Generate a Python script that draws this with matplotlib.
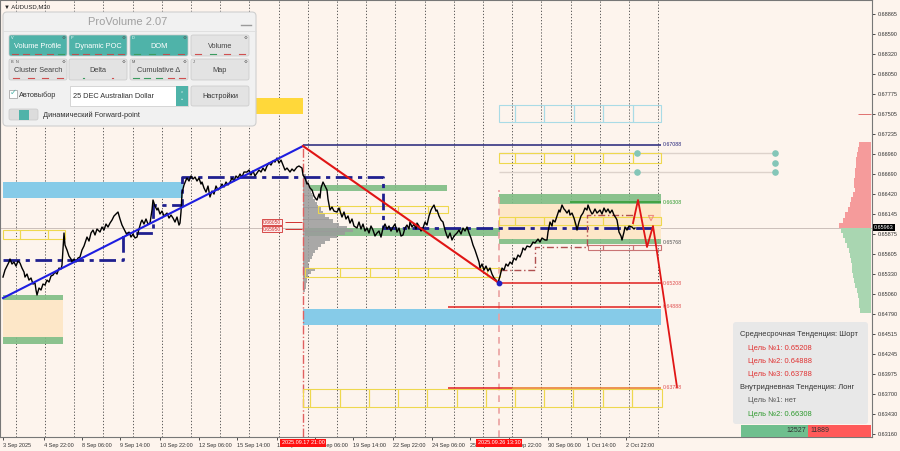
import matplotlib
matplotlib.use('Agg')
import matplotlib.pyplot as plt
import matplotlib.transforms as mtransforms
from matplotlib.patches import Rectangle, FancyBboxPatch

plt.rcParams['font.family'] = ['Liberation Sans', 'DejaVu Sans']

BG = '#fdf4ed'
TEAL = '#4fb3a9'

# ---- price path (bar position, close) ----
bar_x = [3, 5, 7, 9, 10, 12, 14, 16, 18, 20, 22, 24, 25, 27, 29, 31, 33, 35, 36, 37, 39, 41, 43, 45, 47, 49,
         51, 53, 55, 57, 59, 61, 62, 64, 65, 67, 69, 71, 72, 74, 76, 78, 80, 82, 84, 86, 87, 89, 91, 93, 95,
         97, 100, 102, 104, 106, 108, 110, 112, 114, 116, 118, 120, 122, 123, 125, 127, 129, 131, 133, 135,
         137, 139, 141, 142, 144, 146, 148, 150, 152, 153, 155, 157, 158, 160, 162, 164, 167, 169, 171, 173,
         175, 177, 179, 180, 181, 182, 184, 186, 187, 189, 191, 193, 195, 197, 199, 201, 202, 204, 206, 208,
         210, 212, 214, 216, 218, 220, 222, 224, 226, 228, 230, 232, 234, 236, 238, 240, 242, 244, 247, 249,
         251, 253, 255, 257, 259, 261, 263, 265, 267, 269, 271, 273, 275, 277, 279, 281, 283, 285, 287, 290,
         292, 294, 297, 299, 302, 303, 305, 307, 308, 310, 312, 314, 316, 317, 319, 320, 321, 323, 325, 327,
         328, 330, 332, 334, 337, 339, 341, 342, 344, 346, 348, 350, 352, 354, 357, 359, 361, 363, 365, 367,
         369, 371, 373, 375, 377, 379, 381, 383, 385, 387, 389, 391, 393, 395, 397, 399, 401, 403, 405, 407,
         409, 410, 412, 414, 416, 417, 419, 421, 423, 425, 427, 429, 431, 432, 434, 436, 437, 439, 441, 443,
         445, 447, 448, 450, 452, 454, 457, 459, 461, 463, 465, 467, 469, 471, 473, 475, 477, 479, 480, 482,
         484, 486, 488, 490, 492, 494, 496, 498, 500, 502, 504, 506, 508, 510, 512, 514, 516, 518, 520, 522,
         523, 525, 527, 530, 532, 533, 535, 538, 540, 542, 545, 547, 548, 550, 552, 553, 555, 557, 559, 560,
         562, 564, 565, 567, 569, 570, 572, 574, 576, 577, 579, 581, 583, 585, 587, 588, 590, 592, 593, 595,
         597, 600, 602, 604, 606, 608, 610, 612, 614, 616, 617, 619, 621, 622, 624, 625, 627, 629, 632, 634, 635]
close = [0.65293, 0.65388, 0.65442, 0.65497, 0.65538, 0.65470, 0.65497, 0.65442, 0.65510, 0.65483, 0.65415,
         0.65361, 0.65293, 0.65334, 0.65252, 0.65280, 0.65198, 0.65212, 0.65117, 0.65049, 0.65144, 0.65117,
         0.65198, 0.65185, 0.65252, 0.65225, 0.65307, 0.65320, 0.65361, 0.65334, 0.65415, 0.65402, 0.65456,
         0.65891, 0.65728, 0.65660, 0.65578, 0.65538, 0.65497, 0.65538, 0.65497, 0.65551, 0.65565, 0.65660,
         0.65714, 0.65796, 0.65836, 0.65782, 0.65891, 0.65931, 0.65864, 0.65945, 0.65904, 0.65972, 0.65931,
         0.66013, 0.65972, 0.66026, 0.66067, 0.66122, 0.66149, 0.66176, 0.66081, 0.65999, 0.65972, 0.65918,
         0.65864, 0.65904, 0.65836, 0.65877, 0.65823, 0.65836, 0.65945, 0.66040, 0.66067, 0.66013, 0.66081,
         0.66013, 0.66026, 0.66203, 0.66339, 0.66257, 0.66203, 0.66230, 0.66149, 0.66189, 0.66122, 0.66162,
         0.66094, 0.66135, 0.66094, 0.66040, 0.66108, 0.65999, 0.66026, 0.66176, 0.66434, 0.66543, 0.66610,
         0.66638, 0.66597, 0.66665, 0.66624, 0.66651, 0.66597, 0.66638, 0.66556, 0.66583, 0.66502, 0.66447,
         0.66529, 0.66380, 0.66461, 0.66420, 0.66529, 0.66475, 0.66502, 0.66556, 0.66515, 0.66583, 0.66543,
         0.66583, 0.66638, 0.66597, 0.66665, 0.66638, 0.66692, 0.66651, 0.66719, 0.66719, 0.66746, 0.66678,
         0.66733, 0.66665, 0.66705, 0.66746, 0.66719, 0.66773, 0.66733, 0.66801, 0.66841, 0.66814, 0.66868,
         0.66855, 0.66909, 0.66841, 0.66882, 0.66814, 0.66746, 0.66773, 0.66719, 0.66760, 0.66733, 0.66787,
         0.66801, 0.66773, 0.66678, 0.66638, 0.66556, 0.66570, 0.66502, 0.66475, 0.66393, 0.66352, 0.66339,
         0.66420, 0.66366, 0.66502, 0.66583, 0.66529, 0.66475, 0.66352, 0.66203, 0.66244, 0.66189, 0.66176,
         0.66230, 0.66149, 0.66108, 0.66176, 0.66081, 0.66122, 0.66026, 0.66081, 0.65986, 0.65959, 0.66040,
         0.65945, 0.66013, 0.65918, 0.65959, 0.65891, 0.65986, 0.65931, 0.65850, 0.65891, 0.65918, 0.65836,
         0.65959, 0.66013, 0.65945, 0.65986, 0.65918, 0.65972, 0.66013, 0.65904, 0.65959, 0.65850, 0.65864,
         0.65959, 0.65999, 0.65945, 0.66040, 0.65972, 0.66013, 0.65945, 0.66026, 0.65986, 0.65918, 0.65959,
         0.66040, 0.65999, 0.66122, 0.66203, 0.66230, 0.66271, 0.66189, 0.66203, 0.66122, 0.66067, 0.66040,
         0.65931, 0.65850, 0.65823, 0.65891, 0.65796, 0.65850, 0.65891, 0.65931, 0.65877, 0.65959, 0.65918,
         0.65972, 0.65891, 0.65823, 0.65728, 0.65660, 0.65578, 0.65497, 0.65415, 0.65470, 0.65388, 0.65442,
         0.65375, 0.65415, 0.65334, 0.65280, 0.65252, 0.65212, 0.65307, 0.65415, 0.65388, 0.65470, 0.65442,
         0.65497, 0.65470, 0.65551, 0.65524, 0.65592, 0.65565, 0.65633, 0.65687, 0.65660, 0.65714, 0.65701,
         0.65741, 0.65768, 0.65755, 0.65809, 0.65768, 0.65823, 0.65796, 0.65796, 0.65904, 0.66040, 0.65986,
         0.66067, 0.66040, 0.66122, 0.66203, 0.66176, 0.66271, 0.66217, 0.66203, 0.66162, 0.66203, 0.66135,
         0.66162, 0.66094, 0.65999, 0.65931, 0.66040, 0.66122, 0.66162, 0.66230, 0.66203, 0.66271, 0.66203,
         0.66149, 0.66162, 0.66217, 0.66162, 0.66203, 0.66149, 0.66230, 0.66176, 0.66217, 0.66162, 0.66203,
         0.66135, 0.66094, 0.66067, 0.65904, 0.65850, 0.65796, 0.65904, 0.65972, 0.65931, 0.65986, 0.65972,
         0.65945, 0.65959]
last_price = 0.65963

# ---- trend lines / POC path ----
up_trend_x, up_trend_y = [3, 303], [0.65008, 0.67072]
down_trend_x, down_trend_y = [303, 499], [0.67072, 0.65212]
poc_x = [3, 123, 123, 153, 153, 182, 182, 383, 383, 657]
poc_y = [0.65524, 0.65524, 0.65891, 0.65891, 0.66271, 0.66271, 0.66651, 0.66651, 0.65959, 0.65959]
fwd_poc_x = [500, 535, 535, 587, 587, 633]
fwd_poc_y = [0.65388, 0.65388, 0.65701, 0.65701, 0.66135, 0.66135]
forecast_x = [633, 638, 647, 653, 657, 677]
forecast_y = [0.66026, 0.66339, 0.65701, 0.65986, 0.65633, 0.63799]

# ---- zones (x0, x1, low, high) ----
sky_zones = [(3, 183, 0.66366, 0.66583), (303, 661, 0.64641, 0.64859)]
green_zones = [(3, 63, 0.64981, 0.65049), (3, 63, 0.64384, 0.64478), (310, 447, 0.66461, 0.66543),
               (305, 500, 0.65850, 0.65959), (499, 661, 0.66284, 0.66420), (499, 661, 0.65741, 0.65809)]
peach_zones = [(3, 63, 0.64478, 0.64981), (499, 661, 0.65809, 0.66284)]
gold_zones = [(255, 303, 0.67507, 0.67724)]

yellow_rows = [
    ([3, 20, 48, 65], 0.65809, 0.65932),
    ([318, 340, 370, 398, 428, 448], 0.66162, 0.66257),
    ([305, 340, 370, 398, 428, 457, 487, 500], 0.65293, 0.65416),
    ([303, 310, 340, 369, 398, 427, 457, 486, 515, 544, 573, 603, 632, 662], 0.63528, 0.63772),
    ([499, 515, 544, 574, 603, 633, 661], 0.66842, 0.66977),
    ([499, 515, 544, 574, 603, 633, 661], 0.65999, 0.66108),
]
cyan_rows = [([499, 515, 544, 574, 603, 633, 661], 0.67398, 0.67629)]
brown_rows = [([588, 603, 633, 661], 0.65660, 0.65728)]

# ---- target levels ----
level_prices = [0.67088, 0.66308, 0.65208, 0.64888, 0.63788]
level_x0 = [303, 570, 499, 448, 512]
level_colors = ['#23237a', '#2e9a2e', '#e02020', '#e02020', '#e8782a']
label_prices = [0.67088, 0.66308, 0.65768, 0.65208, 0.64888, 0.63788]
label_colors = ['#23237a', '#2e9a2e', '#555555', '#e05050', '#e05050', '#e05050']

# ---- volume profile from 17 Sep ----
vp_levels = [0.65117, 0.65157, 0.65198, 0.65239, 0.65280, 0.65320, 0.65361, 0.65402, 0.65442, 0.65483,
             0.65524, 0.65565, 0.65605, 0.65646, 0.65687, 0.65728, 0.65768, 0.65809, 0.65850, 0.65891,
             0.65931, 0.65972, 0.66013, 0.66054, 0.66094, 0.66135, 0.66176, 0.66217, 0.66257, 0.66298,
             0.66339, 0.66380, 0.66420, 0.66461, 0.66502, 0.66543, 0.66583, 0.66624, 0.66665]
vp_volume = [2, 3, 3, 4, 4, 5, 8, 12, 6, 5, 7, 9, 10, 12, 15, 18, 22, 27, 34, 42, 50, 44, 36, 30, 26, 22,
             20, 18, 15, 14, 12, 10, 9, 8, 7, 6, 5, 4, 3]

# ---- DOM (right edge) ----
ask_levels = [0.67086, 0.67018, 0.66950, 0.66882, 0.66814, 0.66746, 0.66678, 0.66610, 0.66543, 0.66475,
              0.66407, 0.66339, 0.66271, 0.66203, 0.66135, 0.66067, 0.65999]
ask_size = [12, 13, 14, 15, 15, 16, 16, 17, 17, 16, 18, 20, 21, 23, 26, 28, 32]
bid_levels = [0.65931, 0.65864, 0.65796, 0.65728, 0.65660, 0.65592, 0.65524, 0.65456, 0.65388, 0.65320,
              0.65252, 0.65185, 0.65117, 0.65049, 0.64981, 0.64913, 0.64845]
bid_size = [30, 28, 26, 24, 22, 21, 20, 19, 19, 18, 17, 16, 14, 13, 12, 12, 11]

grid_x = [15.7, 44.9, 74.1, 103.3, 132.5, 161.7, 190.9, 220.1, 249.3, 278.5, 307.7, 336.9, 366.1, 395.3,
          424.5, 453.7, 482.9, 512.1, 541.3, 570.5, 599.7, 628.9, 658.1]
xtick_pos = [3, 44, 82, 120, 160, 199, 237, 277, 315, 353, 393, 432, 470, 509, 548, 587, 626]
xtick_labels = ['3 Sep 2025', '4 Sep 22:00', '8 Sep 06:00', '9 Sep 14:00', '10 Sep 22:00', '12 Sep 06:00',
                '15 Sep 14:00', '16 Sep 22:00', '18 Sep 06:00', '19 Sep 14:00', '22 Sep 22:00',
                '24 Sep 06:00', '25 Sep 14:00', '26 Sep 22:00', '30 Sep 06:00', '1 Oct 14:00', '2 Oct 22:00']
ytick_pos = [0.68865, 0.68590, 0.68320, 0.68050, 0.67775, 0.67505, 0.67235, 0.66960, 0.66690, 0.66420,
             0.66145, 0.65875, 0.65605, 0.65330, 0.65060, 0.64790, 0.64515, 0.64245, 0.63975, 0.63700,
             0.63430, 0.63160]

fig = plt.figure(figsize=(9, 4.51), dpi=100, facecolor=BG)
ax = fig.add_axes([0, 14 / 451, 872 / 900, 437 / 451])
ax.set_facecolor(BG)
ax.set_xlim(0, 872)
ax.set_ylim(0.63121, 0.69055)
for s in ax.spines.values():
    s.set_color('#777777')
    s.set_linewidth(0.8)

ax.vlines(grid_x, 0.63121, 0.69055, colors='#444444', linestyles=(0, (1.5, 2.2)), lw=0.6, zorder=0.5)
ax.axhline(last_price, color='#cbbfba', lw=0.7, zorder=0.6)

def band(x0, x1, lo, hi, color, alpha=1.0, z=1):
    ax.add_patch(Rectangle((x0, lo), x1 - x0, hi - lo, fc=color, ec='none', alpha=alpha, zorder=z))

for z in peach_zones:
    band(*z, '#fde7c8', z=0.8)
for z in sky_zones:
    band(*z, '#86cbe8')
for z in green_zones:
    band(*z, '#7fbd84', alpha=0.9)
for z in gold_zones:
    band(*z, '#ffd83a')

def box_row(edges, lo, hi, color):
    for a, b in zip(edges[:-1], edges[1:]):
        ax.add_patch(Rectangle((a, lo), b - a, hi - lo, fc='none', ec=color, lw=0.8, zorder=1.5))

for r in yellow_rows:
    box_row(*r, '#eed84e')
for r in cyan_rows:
    box_row(*r, '#a9dbe6')
for r in brown_rows:
    box_row(*r, '#c97474')

# volume profile and DOM
ax.barh(vp_levels, vp_volume, height=0.00041, left=303, color='#9b9b9b', alpha=0.85, zorder=1.2)
ax.barh(ask_levels, ask_size, height=0.00069, left=[871 - w for w in ask_size], color='#f59b9b', zorder=1.2)
ax.barh(bid_levels, bid_size, height=0.00069, left=[871 - w for w in bid_size], color='#a9d6b1', zorder=1.2)
ax.hlines(0.67505, 858, 871, color='#e07070', lw=0.7)

# vertical event lines
ax.vlines(303, 0.63121, 0.67072, colors='#e06060', linestyles='-.', lw=1.0, zorder=1.3)
ax.vlines(499, 0.63121, 0.66475, colors='#eaa0a0', linestyles=(0, (4, 3)), lw=1.2, zorder=1.3)

# levels and lines
ax.plot(poc_x, poc_y, color='#1f1f8f', lw=2, ls=(0, (6, 2, 1.5, 2)), zorder=2)
ax.plot(fwd_poc_x, fwd_poc_y, color='#b05050', lw=1, ls=(0, (5, 2, 1, 2)), zorder=2)
for p, x0, c in zip(level_prices, level_x0, level_colors):
    ax.hlines(p, x0, 661, colors=c, lw=1.1, zorder=2)
ax.hlines(0.63788, 448, 512, colors='#e02020', lw=1.1, zorder=2)
for p, c in zip(label_prices, label_colors):
    ax.text(663, p, f'{p:.5f}', color=c, fontsize=3.8, va='center', ha='left', zorder=3)

ax.hlines([0.66977, 0.66719], 499, 775, colors='#ddd2cb', lw=1.0, zorder=1.4)
ax.scatter([637, 775, 775, 637, 775], [0.66977, 0.66977, 0.66842, 0.66719, 0.66719], s=14,
           color='#84c6b8', zorder=3)

ax.plot(bar_x, close, color='black', lw=1.0, zorder=2.5)
ax.plot(up_trend_x, up_trend_y, color='#1d1de0', lw=1.5, zorder=2.6)
ax.plot(down_trend_x, down_trend_y, color='#e01515', lw=1.5, zorder=2.6)
ax.plot(forecast_x, forecast_y, color='#e01515', lw=1.3, zorder=2.6)
ax.scatter([499], [0.65212], s=10, color='#2020c0', zorder=3)
ax.scatter([651], [0.66094], s=14, marker='v', facecolors='none', edgecolors='#f08c80', lw=0.8, zorder=3)

# red price tags left of the profile
for p, t in zip([0.66040, 0.65945], ['0.66050', '0.65950']):
    ax.text(272, p, t, color='#d03030', fontsize=3.6, ha='center', va='center', zorder=3,
            bbox=dict(boxstyle='square,pad=0.15', fc='#fdeaea', ec='#d03030', lw=0.6))
    ax.hlines(p, 285, 302, colors='#d03030', lw=0.7, zorder=3)

# axes ticks
ax.yaxis.tick_right()
ax.set_yticks(ytick_pos)
ax.set_yticklabels([f'{v:.5f}' for v in ytick_pos])
ax.set_xticks(xtick_pos)
ax.set_xticklabels(xtick_labels, ha='left')
ax.tick_params(axis='both', labelsize=4, colors='#333333', length=2.5, width=0.6, pad=1.5)
trans = mtransforms.blended_transform_factory(ax.transAxes, ax.transData)
ax.text(1.002, last_price, f'{last_price:.5f}', transform=trans, fontsize=4, color='white', va='center',
        ha='left', bbox=dict(boxstyle='square,pad=0.2', fc='black', ec='none'), zorder=5, clip_on=False)

# ---- overlay in pixel coordinates for panels ----
ui = fig.add_axes([0, 0, 1, 1], zorder=5)
ui.set_xlim(0, 900)
ui.set_ylim(451, 0)
ui.axis('off')
ui.patch.set_alpha(0)

for x, t in zip([303, 499], ['2025.09.17 21:00', '2025.09.26 13:30']):
    ui.text(x, 443, t, fontsize=4, color='white', ha='center', va='center',
            bbox=dict(boxstyle='square,pad=0.25', fc='#ff1010', ec='none'))

ui.text(4, 7, '▼ AUDUSD,M30', fontsize=4.3, color='#222222', va='center')

# ProVolume panel
ui.add_patch(FancyBboxPatch((3, 12), 253, 114, boxstyle='round,pad=0,rounding_size=4',
                            fc='#f1f1f1', ec='#cfcfcf', lw=0.8))
ui.text(128, 22, 'ProVolume 2.07', fontsize=8, color='#a0a0a0', ha='center', va='center')
ui.plot([241, 251], [25, 25], color='#9a9a9a', lw=1)
ui.plot([3, 256], [31, 31], color='#dddddd', lw=0.6)

btn_labels = ['Volume Profile', 'Dynamic POC', 'DOM', 'Volume', 'Cluster Search', 'Delta', 'Cumulative Δ', 'Map']
btn_active = [True, True, True, False, False, False, False, False]
btn_tags = ['V', 'P', 'D', '', 'B  N', '', 'M', 'J']
btn_marks = [['#b85050', '#b85050', '#b85050', '#b85050', '#3c9c60'],
             ['#b85050', '#b85050', '#b85050', '#b85050', '#b85050'],
             ['#3c9c60', '#3c9c60', '#b85050', '#b85050'],
             ['#d05050', '#3c9c60', '#d05050', '#d05050'],
             ['#d05050', '#d05050', '#d05050', '#d05050'],
             ['#3c9c60', '#d05050'],
             ['#3c9c60', '#3c9c60', '#3c9c60', '#d05050', '#d05050'],
             []]
col_x = [9, 69, 130, 191]
row_y = [35, 59]
for i, (lab, act, tag, marks) in enumerate(zip(btn_labels, btn_active, btn_tags, btn_marks)):
    x0, y0 = col_x[i % 4], row_y[i // 4]
    ui.add_patch(FancyBboxPatch((x0, y0), 58, 21, boxstyle='round,pad=0,rounding_size=2',
                                fc=TEAL if act else '#e3e3e3', ec='#c8c8c8', lw=0.5))
    ui.text(x0 + 29, y0 + 11, lab, fontsize=5.3, ha='center', va='center',
            color='white' if act else '#444444')
    ui.text(x0 + 2, y0 + 3, tag, fontsize=2.8, color='#ffffff' if act else '#555555', va='center')
    ui.text(x0 + 55, y0 + 3, '⚙', fontsize=3.2, color='#555555', ha='center', va='center')
    n = len(marks)
    for k, c in enumerate(marks):
        cx = x0 + 58 * (k + 0.5) / n
        ui.plot([cx - 3, cx + 3] if act or n > 3 else [cx - 0.8, cx + 0.8], [y0 + 18.5, y0 + 18.5],
                color=c, lw=0.8)

# row with checkbox, symbol selector, settings
ui.add_patch(Rectangle((9, 90), 8, 8, fc='white', ec='#999999', lw=0.5))
ui.text(9.5, 93.5, '✓', fontsize=6, color=TEAL, va='center')
ui.text(19, 95, 'Автовыбор', fontsize=5.3, color='#333333', va='center')
ui.add_patch(Rectangle((70, 86), 118, 20, fc='white', ec='#d0d0d0', lw=0.6))
ui.text(73, 96, '25 DEC Australian Dollar', fontsize=5.3, color='#333333', va='center')
ui.add_patch(Rectangle((176, 86), 12, 20, fc=TEAL, ec='none'))
ui.text(182, 96, '⌃\n⌄', fontsize=3.5, color='white', ha='center', va='center', linespacing=0.8)
ui.add_patch(FancyBboxPatch((191, 86), 58, 20, boxstyle='round,pad=0,rounding_size=2',
                            fc='#e3e3e3', ec='#c8c8c8', lw=0.5))
ui.text(220, 96, 'Настройки', fontsize=5.3, color='#333333', ha='center', va='center')
ui.add_patch(FancyBboxPatch((9, 109), 29, 11, boxstyle='round,pad=0,rounding_size=2',
                            fc='#dcdcdc', ec='#c8c8c8', lw=0.5))
ui.add_patch(Rectangle((19, 109.5), 10, 10, fc=TEAL, ec='none'))
ui.text(43, 115, 'Динамический Forward-point', fontsize=5.3, color='#333333', va='center')

# trend info box
ui.add_patch(FancyBboxPatch((733, 322), 135, 102, boxstyle='round,pad=0,rounding_size=3',
                            fc='#e8e8e8', ec='none'))
info_text = ['Среднесрочная Тенденция: Шорт', 'Цель №1: 0.65208', 'Цель №2: 0.64888', 'Цель №3: 0.63788',
             'Внутридневная Тенденция: Лонг', 'Цель №1: нет', 'Цель №2: 0.66308']
info_color = ['#333333', '#e03030', '#e03030', '#e03030', '#333333', '#555555', '#2e9a2e']
info_indent = [0, 1, 1, 1, 0, 1, 1]
for k, (t, c, ind) in enumerate(zip(info_text, info_color, info_indent)):
    ui.text(740 + 8 * ind, 335 + 13.2 * k, t, fontsize=5.4, color=c, va='center')

delta_buy, delta_sell = 12527, 11889
ui.add_patch(Rectangle((741, 425), 67, 12, fc='#6fbf8e', ec='none'))
ui.add_patch(Rectangle((808, 425), 63, 12, fc='#ff5a5a', ec='none'))
ui.text(806, 431, str(delta_buy), fontsize=5, color='#333333', ha='right', va='center')
ui.text(810, 431, str(delta_sell), fontsize=5, color='#333333', ha='left', va='center')

fig.savefig('out.png', dpi=100, facecolor=BG)
